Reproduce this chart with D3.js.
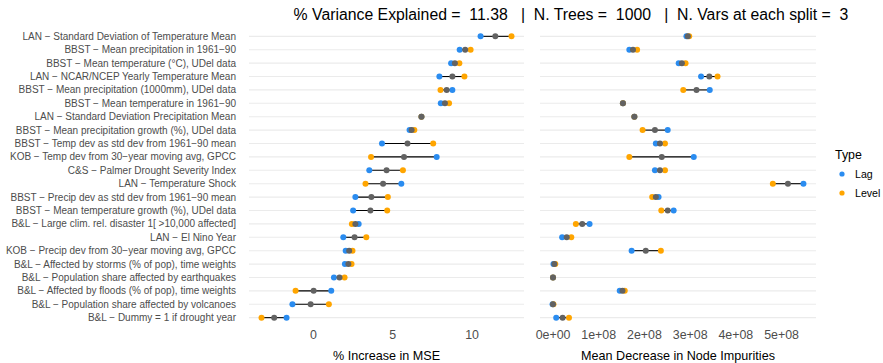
<!DOCTYPE html>
<html>
<head>
<meta charset="utf-8">
<script src="https://cdn.jsdelivr.net/npm/d3@7"></script>
<style>
  body { margin: 0; background: #fff; }
  text { font-family: "Liberation Sans", Arial, sans-serif; }
</style>
</head>
<body>
<div id="plot"></div>
<script>
// variables, top row first
const vars = [
  "LAN \u2212 Standard Deviation of Temperature Mean",
  "BBST \u2212 Mean precipitation in 1961\u221290",
  "BBST \u2212 Mean temperature (\u00b0C), UDel data",
  "LAN \u2212 NCAR/NCEP Yearly Temperature Mean",
  "BBST \u2212 Mean precipitation (1000mm), UDel data",
  "BBST \u2212 Mean temperature in 1961\u221290",
  "LAN \u2212 Standard Deviation Precipitation Mean",
  "BBST \u2212 Mean precipitation growth (%), UDel data",
  "BBST \u2212 Temp dev as std dev from 1961\u221290 mean",
  "KOB \u2212 Temp dev from 30\u2212year moving avg, GPCC",
  "C&S \u2212 Palmer Drought Severity Index",
  "LAN \u2212 Temperature Shock",
  "BBST \u2212 Precip dev as std dev from 1961\u221290 mean",
  "BBST \u2212 Mean temperature growth (%), UDel data",
  "B&L \u2212 Large clim. rel. disaster 1[ >10,000 affected]",
  "LAN \u2212 El Nino Year",
  "KOB \u2212 Precip dev from 30\u2212year moving avg, GPCC",
  "B&L \u2212 Affected by storms (% of pop), time weights",
  "B&L \u2212 Population share affected by earthquakes",
  "B&L \u2212 Affected by floods (% of pop), time weights",
  "B&L \u2212 Population share affected by volcanoes",
  "B&L \u2212 Dummy = 1 if drought year"
];

// % increase in MSE
const mseLag   = [10.57, 9.25, 8.71, 7.97, 8.79, 8.06, 6.84, 6.09, 4.35, 7.80, 3.55, 5.57, 2.67, 2.53, 2.88, 1.91, 2.06, 2.01, 1.32, 1.15, -1.30, -1.67];
const mseLevel = [12.52, 9.94, 9.23, 9.55, 8.04, 8.58, 6.84, 6.39, 7.58, 3.66, 5.67, 3.31, 4.72, 4.68, 2.45, 3.36, 2.49, 2.43, 1.99, -1.10, 1.00, -3.25];
const mseMean  = [11.50, 9.60, 8.95, 8.79, 8.43, 8.32, 6.84, 6.22, 5.96, 5.74, 4.64, 4.42, 3.68, 3.62, 2.67, 2.62, 2.28, 2.23, 1.67, 0.04, -0.15, -2.45];

// mean decrease in node impurities
const giniLag   = [2.93e8, 1.68e8, 2.76e8, 3.25e8, 3.44e8, 1.54e8, 1.79e8, 2.52e8, 2.26e8, 3.09e8, 2.24e8, 5.49e8, 2.32e8, 2.65e8, 0.81e8, 0.21e8, 1.73e8, 0.02e8, 0.01e8, 1.47e8, 0.00e8, 0.08e8];
const giniLevel = [2.99e8, 1.85e8, 2.91e8, 3.61e8, 2.86e8, 1.54e8, 1.79e8, 1.97e8, 2.46e8, 1.68e8, 2.46e8, 4.82e8, 2.18e8, 2.38e8, 0.51e8, 0.41e8, 2.37e8, 0.06e8, 0.01e8, 1.58e8, 0.02e8, 0.36e8];
const giniMean  = [2.96e8, 1.76e8, 2.83e8, 3.43e8, 3.15e8, 1.54e8, 1.79e8, 2.24e8, 2.35e8, 2.39e8, 2.35e8, 5.15e8, 2.26e8, 2.52e8, 0.65e8, 0.31e8, 2.04e8, 0.04e8, 0.01e8, 1.53e8, 0.01e8, 0.22e8];

const mseTicks  = [0, 5, 10];
const giniTicks = [0, 1e8, 2e8, 3e8, 4e8, 5e8];

const title = "% Variance Explained =  11.38   |  N. Trees =  1000   |  N. Vars at each split =  3";
const types = ["Lag", "Level"];
const colLag = "#2a8cf0", colLevel = "#ffa500", colMean = "#626262";

const W = 883, H = 363;
const svg = d3.select("#plot").append("svg")
    .attr("width", W).attr("height", H);

// ggplot-like continuous expansion
function expand(vals) {
  let e = d3.extent(vals), p = (e[1] - e[0]) * 0.05;
  return [e[0] - p, e[1] + p];
}

let yScale = d3.scalePoint()
    .domain(vars)
    .range([28.3, 325.7])
    .padding(0.6);

let xMse = d3.scaleLinear()
    .domain(expand(mseLag.concat(mseLevel, mseMean)))
    .range([249, 524]);

let xGini = d3.scaleLinear()
    .domain(expand(giniLag.concat(giniLevel, giniMean)))
    .range([540, 816]);

function panel(id, x, lag, level, mean, ticks, fmt, label) {
  let g = svg.append("g").attr("id", id);
  let [x0, x1] = x.range();

  // horizontal grid
  g.append("g").selectAll("line").data(vars).enter().append("line")
    .attr("x1", x0).attr("x2", x1)
    .attr("y1", d => yScale(d)).attr("y2", d => yScale(d))
    .attr("stroke", "#ebebeb").attr("stroke-width", 1.1);

  // segments lag -> level
  g.append("g").selectAll("line").data(vars).enter().append("line")
    .attr("x1", (d, i) => x(lag[i])).attr("x2", (d, i) => x(level[i]))
    .attr("y1", d => yScale(d)).attr("y2", d => yScale(d))
    .attr("stroke", "#000").attr("stroke-width", 1.1);

  let dots = (vals, col) => g.append("g").selectAll("circle").data(vars).enter().append("circle")
    .attr("cx", (d, i) => x(vals[i])).attr("cy", d => yScale(d))
    .attr("r", 3).attr("fill", col);
  dots(lag, colLag);
  dots(level, colLevel);
  dots(mean, colMean);

  // x axis
  let ax = g.append("g")
    .attr("transform", "translate(0,326)")
    .call(d3.axisBottom(x).tickValues(ticks).tickFormat(fmt).tickSize(0).tickPadding(4));
  ax.select(".domain").remove();
  ax.selectAll("text")
    .attr("fill", "#4d4d4d")
    .style("font-size", "12.4px")
    .style("font-family", "'Liberation Sans', Arial, sans-serif");

  g.append("text")
    .attr("x", (x0 + x1) / 2).attr("y", 360)
    .attr("text-anchor", "middle")
    .style("font-size", "12.6px")
    .attr("fill", "#000")
    .text(label);
}

panel("mse", xMse, mseLag, mseLevel, mseMean, mseTicks, d3.format("d"), "% Increase in MSE");
panel("gini", xGini, giniLag, giniLevel, giniMean, giniTicks,
  d => d === 0 ? "0e+00" : (d / 1e8) + "e+08", "Mean Decrease in Node Impurities");

// y labels
svg.append("g").selectAll("text").data(vars).enter().append("text")
  .attr("x", 236).attr("y", d => yScale(d))
  .attr("dy", "0.35em")
  .attr("text-anchor", "end")
  .attr("fill", "#4d4d4d")
  .style("font-size", "10px")
  .text(d => d);

// title
svg.append("text")
  .attr("x", 571).attr("y", 20)
  .attr("text-anchor", "middle")
  .attr("fill", "#000")
  .style("font-size", "15.8px")
  .style("white-space", "pre")
  .attr("xml:space", "preserve")
  .text(title);

// legend
let leg = svg.append("g").attr("id", "legend");
leg.append("text").attr("x", 835).attr("y", 159)
  .style("font-size", "12.4px").attr("fill", "#000").text("Type");
leg.selectAll("circle").data(types).enter().append("circle")
  .attr("cx", 842).attr("cy", (d, i) => 174 + i * 19)
  .attr("r", 2.6)
  .attr("fill", (d, i) => i === 0 ? colLag : colLevel);
leg.selectAll("text.lab").data(types).enter().append("text")
  .attr("class", "lab")
  .attr("x", 855).attr("y", (d, i) => 174 + i * 19)
  .attr("dy", "0.35em")
  .style("font-size", "10.6px").attr("fill", "#000")
  .text(d => d);
</script>
</body>
</html>
